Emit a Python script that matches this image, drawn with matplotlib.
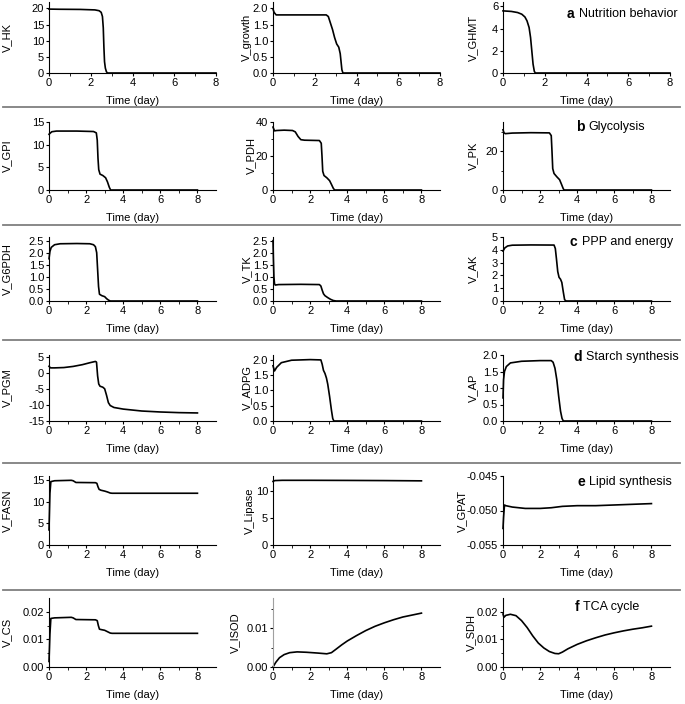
import matplotlib.pyplot as plt
from matplotlib.lines import Line2D
from matplotlib.ticker import FormatStrFormatter, FixedLocator

plt.rcParams['font.family'] = ['Liberation Sans', 'DejaVu Sans']
plt.rcParams['font.size'] = 8
plt.rcParams['axes.unicode_minus'] = False

# ---- data (time in days) ----
# a Nutrition behavior
HK_t = [0, 0.5, 1.5, 2.2, 2.4, 2.5, 2.56, 2.6, 2.63, 2.66, 2.7, 2.75, 2.8, 8]
HK_v = [19.8, 19.75, 19.7, 19.55, 19.3, 18.8, 17.5, 14, 8, 3.5, 1.5, 0.4, 0, 0]
growth_t = [0, 0.05, 0.15, 0.5, 1.5, 2.55, 2.65, 2.75, 2.85, 2.95, 3.05, 3.15, 3.22, 3.3, 3.35, 8]
growth_v = [1.98, 1.88, 1.8, 1.8, 1.8, 1.8, 1.75, 1.55, 1.35, 1.1, 0.9, 0.8, 0.6, 0.1, 0, 0]
GHMT_t = [0, 0.4, 0.7, 0.9, 1.05, 1.15, 1.25, 1.32, 1.38, 1.44, 1.5, 1.55, 8]
GHMT_v = [5.6, 5.55, 5.45, 5.3, 5.05, 4.7, 4.1, 3.2, 2.0, 0.8, 0.15, 0, 0]

# b Glycolysis
GPI_t = [0, 0.15, 0.4, 1.5, 2.4, 2.55, 2.6, 2.64, 2.68, 2.75, 2.9, 3.05, 3.15, 3.25, 3.32, 8]
GPI_v = [12.3, 12.85, 13.0, 13.0, 12.9, 12.6, 11, 7, 4.5, 3.5, 3.2, 2.7, 1.8, 0.6, 0, 0]
PDH_t = [0, 0.08, 0.2, 0.6, 1.05, 1.2, 1.35, 1.5, 1.7, 2.5, 2.6, 2.64, 2.68, 2.75, 2.9, 3.05, 3.15, 3.25, 3.32, 8]
PDH_v = [37, 34.8, 35, 35.2, 35, 34.2, 31.5, 29.6, 29.3, 29.1, 27.5, 20, 11, 8.5, 7.2, 5.5, 3.3, 1, 0, 0]
PK_t = [0, 0.05, 0.12, 0.5, 1.5, 2.5, 2.6, 2.64, 2.68, 2.75, 2.9, 3.05, 3.15, 3.25, 3.3, 8]
PK_v = [31, 29.5, 29.0, 29.3, 29.5, 29.4, 28, 20, 11, 8.5, 6.8, 5.3, 3, 0.6, 0, 0]

# c PPP and energy
G6PDH_t = [0, 0.05, 0.12, 0.3, 0.6, 1.5, 2.2, 2.4, 2.5, 2.57, 2.62, 2.67, 2.72, 2.85, 3.0, 3.1, 3.2, 3.3, 8]
G6PDH_v = [1.75, 2.05, 2.22, 2.33, 2.37, 2.38, 2.37, 2.33, 2.25, 2.0, 1.3, 0.6, 0.28, 0.22, 0.18, 0.1, 0.04, 0.0, 0]
TK_t = [0, 0.02, 0.05, 0.08, 0.12, 0.3, 1.5, 2.5, 2.58, 2.65, 2.72, 2.8, 2.95, 3.1, 3.25, 3.4, 8]
TK_v = [2.5, 1.8, 1.0, 0.72, 0.66, 0.68, 0.69, 0.68, 0.62, 0.45, 0.3, 0.22, 0.14, 0.07, 0.02, 0, 0]
AK_t = [0, 0.1, 0.25, 0.5, 1.5, 2.75, 2.82, 2.88, 2.95, 3.02, 3.1, 3.17, 3.25, 3.32, 3.4, 8]
AK_v = [3.9, 4.15, 4.3, 4.36, 4.38, 4.37, 4.1, 3.3, 2.3, 1.85, 1.7, 1.45, 0.7, 0.1, 0, 0]

# d Starch synthesis
PGM_t = [0, 0.08, 0.3, 0.8, 1.3, 1.8, 2.2, 2.5, 2.56, 2.62, 2.68, 2.75, 2.9, 3.0, 3.1, 3.2, 3.3, 3.5, 4.0, 5.0, 6.0, 7.0, 8.0]
PGM_v = [2.0, 1.5, 1.5, 1.6, 1.95, 2.5, 3.1, 3.5, 3.3, -1, -3.5, -4.2, -4.5, -5.0, -7.0, -9.3, -10.2, -10.8, -11.3, -11.9, -12.2, -12.4, -12.5]
ADPG_t = [0, 0.08, 0.2, 0.45, 1.0, 2.0, 2.58, 2.65, 2.72, 2.8, 2.88, 2.95, 3.05, 3.15, 3.22, 3.28, 8]
ADPG_v = [1.8, 1.63, 1.75, 1.9, 1.98, 2.0, 1.99, 1.85, 1.65, 1.55, 1.4, 1.2, 0.8, 0.35, 0.08, 0, 0]
AP_t = [0, 0.03, 0.08, 0.18, 0.4, 1.0, 2.0, 2.6, 2.7, 2.8, 2.9, 3.0, 3.1, 3.18, 3.25, 8]
AP_v = [0.7, 1.25, 1.5, 1.65, 1.76, 1.81, 1.83, 1.83, 1.78, 1.6, 1.25, 0.75, 0.3, 0.08, 0, 0]

# e Lipid synthesis
FASN_t = [0, 0.05, 0.1, 0.3, 1.2, 1.3, 1.45, 2.5, 2.58, 2.64, 2.7, 2.8, 3.0, 3.15, 3.3, 3.4, 8]
FASN_v = [3.5, 12, 14.7, 14.9, 15.0, 14.9, 14.5, 14.45, 14.3, 13.5, 12.9, 12.7, 12.5, 12.3, 12.05, 12.0, 12.0]
Lipase_t = [0, 0.1, 0.5, 2, 4, 6, 8]
Lipase_v = [11.8, 11.95, 12.0, 12.0, 11.98, 11.95, 11.9]
GPAT_t = [0, 0.03, 0.08, 0.15, 0.5, 1.2, 2.0, 2.6, 3.2, 4, 5, 6, 7, 8]
GPAT_v = [-0.0526, -0.051, -0.0492, -0.0493, -0.0495, -0.0497, -0.0497, -0.0496, -0.0494, -0.0493, -0.0493, -0.0492, -0.0491, -0.049]

# f TCA cycle
CS_t = [0, 0.05, 0.1, 0.3, 1.2, 1.3, 1.45, 2.5, 2.6, 2.66, 2.72, 2.85, 3.0, 3.15, 3.3, 3.4, 8]
CS_v = [0.002, 0.012, 0.0176, 0.0178, 0.018, 0.0178, 0.0172, 0.0171, 0.0168, 0.015, 0.0137, 0.0135, 0.0133, 0.0128, 0.0123, 0.0122, 0.0122]
ISOD_t = [0, 0.15, 0.35, 0.6, 0.9, 1.3, 1.8, 2.4, 2.9, 3.15, 3.4, 3.7, 4.0, 4.5, 5.0, 5.5, 6.0, 6.5, 7.0, 7.5, 8.0]
ISOD_v = [0, 0.0012, 0.0024, 0.0032, 0.0037, 0.0039, 0.0038, 0.0036, 0.0034, 0.0037, 0.0046, 0.0057, 0.0067, 0.0081, 0.0094, 0.0105, 0.0114, 0.0122, 0.0129, 0.0134, 0.0139]
SDH_t = [0, 0.05, 0.15, 0.4, 0.7, 1.0, 1.3, 1.6, 1.9, 2.2, 2.5, 2.8, 3.0, 3.2, 3.5, 4.0, 4.5, 5.0, 5.5, 6.0, 6.5, 7.0, 7.5, 8.0]
SDH_v = [0.0192, 0.018, 0.0187, 0.0191, 0.0186, 0.0168, 0.0143, 0.0113, 0.0087, 0.0069, 0.0056, 0.0049, 0.0048, 0.0054, 0.0066, 0.0082, 0.0095, 0.0106, 0.0116, 0.0124, 0.0131, 0.0137, 0.0142, 0.0148]

panel_letters = ['a', 'b', 'c', 'd', 'e', 'f']
panel_titles = ['Nutrition behavior', 'Glycolysis', 'PPP and energy', 'Starch synthesis', 'Lipid synthesis', 'TCA cycle']

# (label, t, v, yticks, ylim, fmt, ylabel x in axes coords)
panels = [
    [('V_HK', HK_t, HK_v, [0, 5, 10, 15, 20], (0, 22), '%d', -0.22),
     ('V_growth', growth_t, growth_v, [0, 0.5, 1, 1.5, 2], (0, 2.2), '%.1f', -0.125),
     ('V_GHMT', GHMT_t, GHMT_v, [0, 2, 4, 6], (0, 6.4), '%d', -0.15)],
    [('V_GPI', GPI_t, GPI_v, [0, 5, 10, 15], (0, 15), '%d', -0.22),
     ('V_PDH', PDH_t, PDH_v, [0, 20, 40], (0, 40), '%d', -0.1),
     ('V_PK', PK_t, PK_v, [0, 20], (0, 35), '%d', -0.15)],
    [('V_G6PDH', G6PDH_t, G6PDH_v, [0, 0.5, 1, 1.5, 2, 2.5], (0, 2.65), '%.1f', -0.22),
     ('V_TK', TK_t, TK_v, [0, 0.5, 1, 1.5, 2, 2.5], (0, 2.65), '%.1f', -0.125),
     ('V_AK', AK_t, AK_v, [0, 1, 2, 3, 4, 5], (0, 5), '%d', -0.15)],
    [('V_PGM', PGM_t, PGM_v, [-15, -10, -5, 0, 5], (-15, 5.5), '%d', -0.22),
     ('V_ADPG', ADPG_t, ADPG_v, [0, 0.5, 1, 1.5, 2], (0, 2.15), '%.1f', -0.125),
     ('V_AP', AP_t, AP_v, [0, 0.5, 1, 1.5, 2], (0, 2.0), '%.1f', -0.15)],
    [('V_FASN', FASN_t, FASN_v, [0, 5, 10, 15], (0, 16), '%d', -0.22),
     ('V_Lipase', Lipase_t, Lipase_v, [0, 5, 10], (0, 12.8), '%d', -0.11),
     ('V_GPAT', GPAT_t, GPAT_v, [-0.055, -0.05, -0.045], (-0.055, -0.045), '%.3f', -0.215)],
    [('V_CS', CS_t, CS_v, [0, 0.01, 0.02], (0, 0.025), '%.2f', -0.22),
     ('V_ISOD', ISOD_t, ISOD_v, [0, 0.01], (0, 0.0178), '%.2f', -0.2),
     ('V_SDH', SDH_t, SDH_v, [0, 0.01, 0.02], (0, 0.025), '%.2f', -0.16)],
]
minor_y = {'V_PDH': [10, 30], 'V_PK': [10, 30], 'V_CS': [0.005, 0.015],
           'V_ISOD': [0.005, 0.015], 'V_SDH': [0.005, 0.015]}

W, H = 685, 704
fig = plt.figure(figsize=(W / 100, H / 100), dpi=100)

col_x = [49, 273, 503]
col_w = 167
rows = [(2, 73), (122, 190), (237, 301), (355, 421), (476, 545), (598, 667)]
x_max = [8, 9, 9, 9, 9, 9]
seps = [107, 225, 340, 463, 590]
letter_pos = [(567, 579, 14), (576, 588, 127), (569, 582, 242), (573, 586, 357), (577, 589, 482), (575, 583, 607)]

for r, row in enumerate(panels):
    top, bot = rows[r]
    for c, (lab, t, v, yt, yl, fmt, lx) in enumerate(row):
        ax = fig.add_axes([col_x[c] / W, 1 - bot / H, col_w / W, (bot - top) / H])
        ax.plot(t, v, color='black', lw=1.2, clip_on=False)
        ax.set_xlim(0, x_max[r])
        ax.set_ylim(*yl)
        ax.set_xticks([0, 2, 4, 6, 8])
        ax.xaxis.set_minor_locator(FixedLocator([1, 3, 5, 7]))
        ax.set_yticks(yt)
        if lab in minor_y:
            ax.yaxis.set_minor_locator(FixedLocator(minor_y[lab]))
        ax.yaxis.set_major_formatter(FormatStrFormatter(fmt))
        for s in ['top', 'right']:
            ax.spines[s].set_visible(False)
        for s in ['left', 'bottom']:
            ax.spines[s].set_linewidth(0.8)
        if lab == 'V_ISOD':
            ax.spines['left'].set_color('#a0a0a0')
        ax.tick_params(which='major', direction='out', length=2.5, width=0.8, pad=1, labelsize=8)
        ax.tick_params(which='minor', direction='out', length=1.8, width=0.6)
        ax.set_xlabel('Time (day)', fontsize=8, labelpad=6)
        ax.set_ylabel(lab, fontsize=8)
        ax.yaxis.set_label_coords(lx, 0.5)

    lx0, tx0, ly = letter_pos[r]
    fig.text(lx0 / W, 1 - ly / H, panel_letters[r], fontsize=10, fontweight='bold', va='center')
    fig.text(tx0 / W, 1 - ly / H, panel_titles[r], fontsize=9, va='center')

for y in seps:
    fig.add_artist(Line2D([3 / W, 680 / W], [1 - y / H, 1 - y / H], color='#7f7f7f', lw=1.3))

fig.savefig('out.png', dpi=100)
